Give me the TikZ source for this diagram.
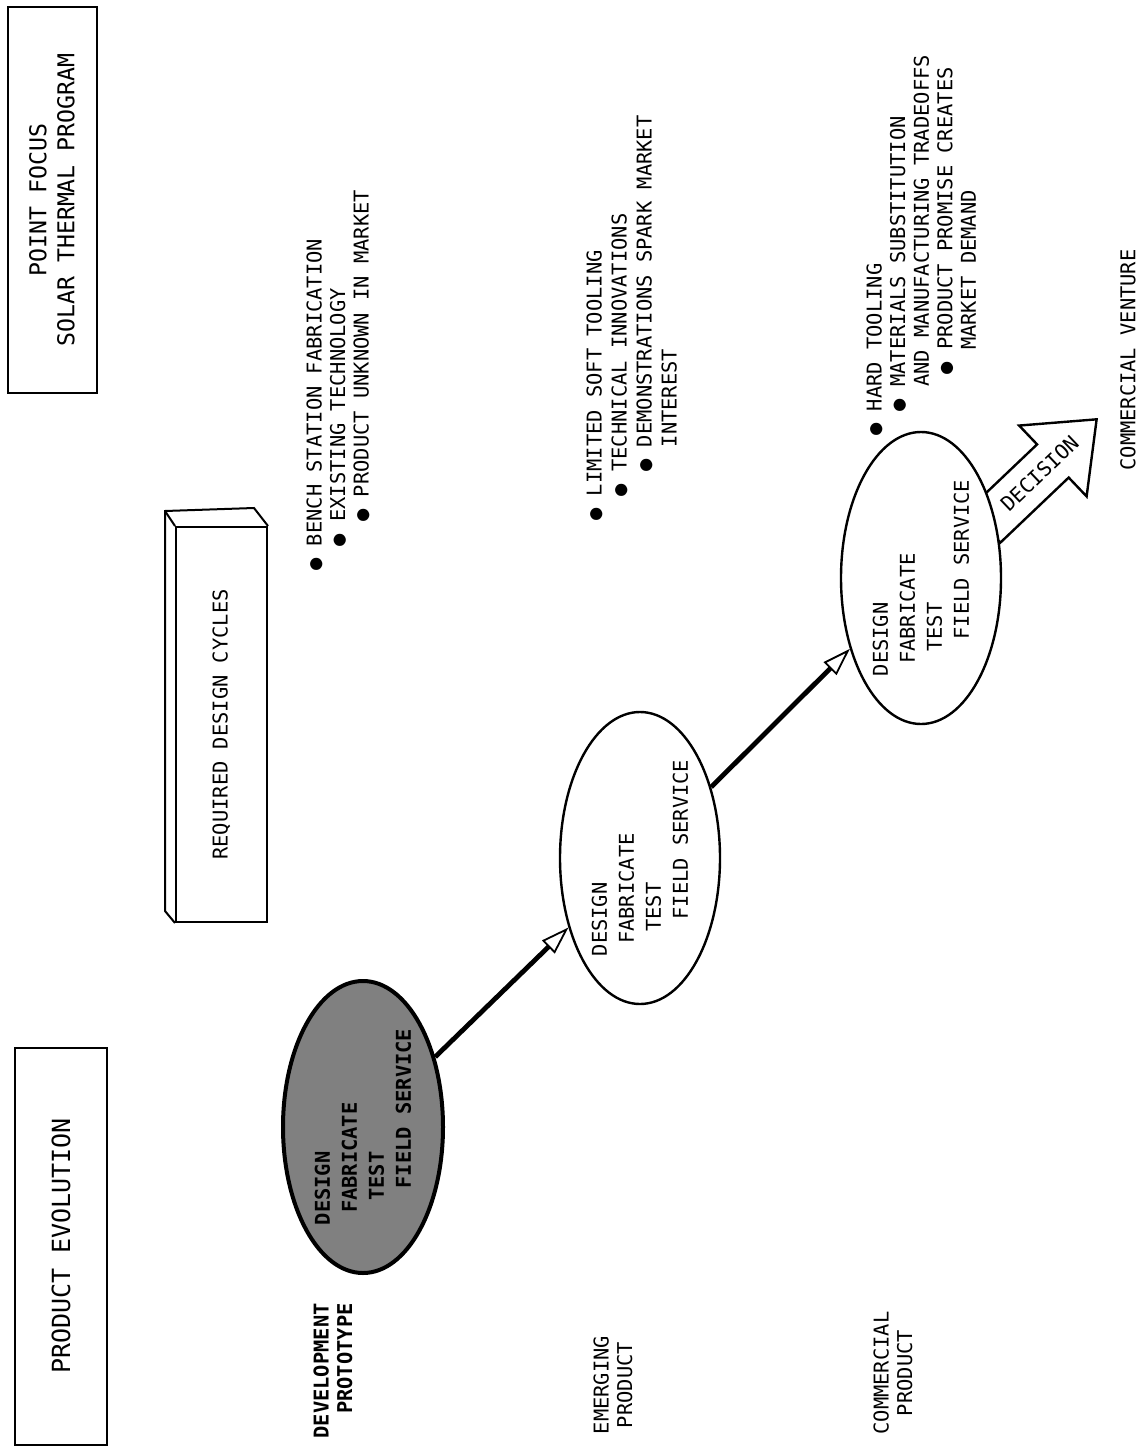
\documentclass[tikz,border=0pt]{standalone}
\usepackage{fontspec}
\setmonofont{DejaVu Sans Mono}
\usetikzlibrary{arrows.meta,shapes.geometric,shapes.arrows,calc}
\definecolor{shade}{gray}{0.5}
\newcommand\typ{\ttfamily\fontsize{10.2}{11.8}\selectfont}
\newcommand\typbig{\ttfamily\fontsize{11.6}{14}\selectfont}
\newcommand\skipch[1]{\hspace*{#1\dimexpr0.6em\relax}}

\begin{document}
\begin{tikzpicture}[x=0.5pt,y=-0.5pt,
  every node/.style={font=\typ, rotate=90, inner sep=0pt}, % whole sheet turned
  box/.style={draw, line width=1pt, align=center},
  stage/.style={ellipse, draw, line width=1.2pt, fill=white, minimum width=146pt, minimum height=80pt, align=left, font=\ttfamily\fontsize{10.2}{13.5}\selectfont},
  notes/.style={anchor=north west, align=left},
  flow/.style={line width=2.4pt, -{Triangle[open, length=14pt, width=9pt, line width=0.9pt]}}]
\useasboundingbox (0,0) rectangle (1147,1450);

\node[box, font=\typbig, minimum width=193pt, minimum height=44.5pt] (ttl) at (52,200) {POINT FOCUS\\SOLAR THERMAL PROGRAM}; %program
\node[box, font=\ttfamily\fontsize{12.5}{14}\selectfont, minimum width=198.5pt, minimum height=46pt] (evo) at (61,1246) {PRODUCT EVOLUTION}; %title
\node[box, minimum width=197.5pt, minimum height=45.5pt] (cyc) at (221.5,724.5) {REQUIRED DESIGN CYCLES}; %front face
\draw[line width=1pt] (cyc.north west) -- ++(-10,-12) -- ($(cyc.north east)+(-10,-15)$) -- ($(cyc.south east)+(-14,-18)$) -- (cyc.south east);
\draw[line width=1pt] (cyc.north east) -- ++(-10,-15);

% left column
\node[align=right, anchor=north east, font=\typ\bfseries] (devlbl) at (313,1303) {DEVELOPMENT\\PROTOTYPE};
\node[align=center] (emglbl) at (613,1385) {EMERGING\\PRODUCT};
\node[align=center] (comlbl) at (893,1373) {COMMERCIAL\\PRODUCT};

% the three cycles
\node[stage, fill=shade, line width=2pt, font=\ttfamily\bfseries\fontsize{10.2}{13.5}\selectfont] (dev) at (363,1127) {DESIGN\\\skipch{1}FABRICATE\\\skipch{2}TEST\\\skipch{3}FIELD SERVICE};
\node[stage] (emg) at (640,858) {DESIGN\\\skipch{1}FABRICATE\\\skipch{2}TEST\\\skipch{3}FIELD SERVICE};
\node[single arrow, draw, line width=1.2pt, fill=white, rotate=-46.4, anchor=tip, text width=62pt, align=right, single arrow head extend=13pt, single arrow tip angle=78, inner xsep=0pt, inner ysep=7pt] (dec) at (1098,418) {DECISION}; %block arrow
\node[stage] (com) at (921,578) {DESIGN\\\skipch{1}FABRICATE\\\skipch{2}TEST\\\skipch{3}FIELD SERVICE};

\draw[flow] (dev) -- (emg);
\draw[flow] (emg) -- (com);

% remarks
\node[notes] (devnotes) at (306,571) {● BENCH STATION FABRICATION\\\skipch{2}● EXISTING TECHNOLOGY\\\skipch{4}● PRODUCT UNKNOWN IN MARKET};
\node[notes, font=\ttfamily\fontsize{10.2}{12.5}\selectfont] (emgnotes) at (586,521) {● LIMITED SOFT TOOLING\\\skipch{2}● TECHNICAL INNOVATIONS\\\skipch{4}● DEMONSTRATIONS SPARK MARKET\\\skipch{6}INTEREST};
\node[notes] (comnotes) at (866,436) {● HARD TOOLING\\\skipch{2}● MATERIALS SUBSTITUTION\\\skipch{4}AND MANUFACTURING TRADEOFFS\\\skipch{5}● PRODUCT PROMISE CREATES\\\skipch{7}MARKET DEMAND};
\node (venture) at (1128,360) {COMMERCIAL VENTURE};
\end{tikzpicture}
\end{document}
